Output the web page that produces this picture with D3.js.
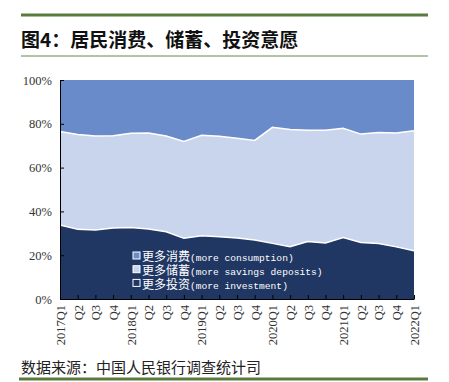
<!DOCTYPE html>
<html><head><meta charset="utf-8">
<script src="https://cdn.jsdelivr.net/npm/d3@7"></script>
<style>body{margin:0;background:#fff}svg{display:block}</style>
</head><body>
<svg id="c" width="449" height="382"></svg>
<script>
const categories = ["2017Q1","Q2","Q3","Q4","2018Q1","Q2","Q3","Q4","2019Q1","Q2","Q3","Q4","2020Q1","Q2","Q3","Q4","2021Q1","Q2","Q3","Q4","2022Q1"];
const investment = [33.8,31.8,31.5,32.4,32.6,32.0,30.7,27.7,28.9,28.4,27.8,26.9,25.4,23.9,26.2,25.6,28.1,25.8,25.3,23.8,22.0];
const savings = [42.7,43.3,42.9,42.1,43.1,43.8,43.7,44.2,45.9,45.9,45.6,45.5,53.0,53.5,50.9,51.5,49.9,49.5,50.7,52.0,54.8];
const consumption = [23.5,24.9,25.6,25.5,24.3,24.2,25.6,28.1,25.2,25.7,26.6,27.6,21.6,22.6,22.9,22.9,22.0,24.7,24.0,24.2,23.2];
const yTicks = [0,20,40,60,80,100];
const seriesNames = ["更多消费","更多储蓄","更多投资"];
const seriesEn = ["(more consumption)","(more savings deposits)","(more investment)"];
const title = "图4：居民消费、储蓄、投资意愿";
const source = "数据来源：中国人民银行调查统计司";

const svg = d3.select("#c");
const L=60,R=414,T=80,B=299;
const idx = categories.map((c,i)=>i);
const x = d3.scalePoint().domain(idx).range([L,R]);
const y = d3.scaleLinear().domain([0,100]).range([B,T]);

const rows = categories.map((c,i)=>({i:i,investment:investment[i],savings:savings[i],consumption:consumption[i]}));
const stack = d3.stack().keys(["investment","savings","consumption"])(rows);
const colors = {investment:"#213763",savings:"#c8d5ec",consumption:"#6a8bc9"};

const area = d3.area().x(d=>x(d.data.i)).y0(d=>y(d[0])).y1(d=>y(d[1]));
svg.append("g").selectAll("path").data(stack).join("path")
  .attr("d",area).attr("fill",d=>colors[d.key]);
const line = d3.line().x(d=>x(d.data.i)).y(d=>y(d[1]));
svg.append("g").selectAll("path").data(stack.slice(0,2)).join("path")
  .attr("d",line).attr("fill","none").attr("stroke","#fff").attr("stroke-width",1.5);

// axes
const ya = svg.append("g").attr("transform",`translate(${L},0)`)
  .call(d3.axisLeft(y).tickValues(yTicks).tickFormat(d=>d+"%").tickSizeInner(-4).tickSizeOuter(0).tickPadding(8));
ya.select(".domain").attr("stroke","#000");
ya.selectAll(".tick line").attr("stroke","#000");
ya.selectAll("text").attr("font-family","'Liberation Serif',serif").attr("font-size",12.5).attr("fill","#333");

const xa = svg.append("g").attr("transform",`translate(0,${B})`)
  .call(d3.axisBottom(x).tickFormat(i=>categories[i]).tickSizeInner(-4).tickSizeOuter(0).tickPadding(5));
xa.select(".domain").attr("stroke","#000");
xa.selectAll(".tick line").attr("stroke","#000");
xa.selectAll("text").attr("font-family","'Liberation Serif',serif").attr("font-size",12.5).attr("fill","#333")
  .attr("text-anchor","end").attr("dy","0.35em").attr("transform","rotate(-90)")
  .attr("x",-6).attr("y",0);

// legend
const lg = svg.append("g");
const legCols = [colors.consumption,colors.savings,colors.investment];
seriesNames.forEach((n,i)=>{
  const cy = 255.5 + i*13.7;
  lg.append("rect").attr("x",133).attr("y",cy-3.5).attr("width",7).attr("height",7)
    .attr("fill",legCols[i]).attr("stroke","#fff").attr("stroke-width",1);
  const t = lg.append("text").attr("x",142).attr("y",cy).attr("dy","0.36em").attr("fill","#fff")
    .attr("font-family","'Liberation Mono','Noto Sans CJK SC',monospace");
  t.append("tspan").attr("font-size",12).text(n);
  t.append("tspan").attr("font-size",9.6).text(seriesEn[i]);
});

// title & frame lines
svg.append("rect").attr("x",21).attr("y",13.5).attr("width",407).attr("height",3).attr("fill","#5b7b3e");
svg.append("text").attr("x",21).attr("y",47).attr("font-family","'Noto Sans CJK SC',sans-serif")
  .attr("font-size",19).attr("font-weight","bold").attr("fill","#111").text(title);
svg.append("rect").attr("x",21).attr("y",55.5).attr("width",407).attr("height",1).attr("fill","#6b8a4e");
svg.append("text").attr("x",21).attr("y",373).attr("font-family","'Noto Sans CJK SC',sans-serif")
  .attr("font-size",15).attr("fill","#222").text(source);
svg.append("rect").attr("x",19).attr("y",377.5).attr("width",409).attr("height",3).attr("fill","#5b7b3e");
</script>
</body></html>
